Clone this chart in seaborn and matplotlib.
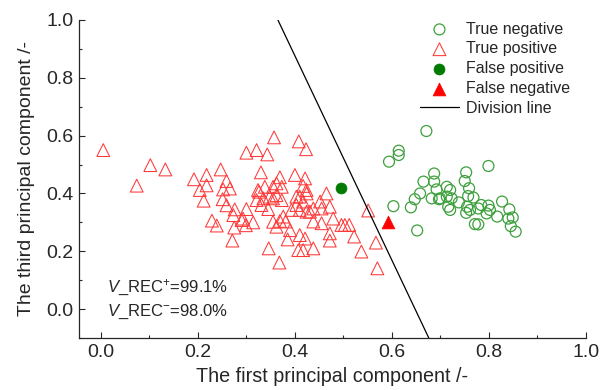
import numpy as np
import pandas as pd
import matplotlib
matplotlib.use("Agg")
import matplotlib.pyplot as plt
import seaborn as sns
from matplotlib.ticker import MultipleLocator

# ---------------- data ----------------
tp_x = [0.005, 0.074, 0.102, 0.133, 0.192, 0.218, 0.247, 0.204, 0.218, 0.259, 0.252, 0.266,
        0.212, 0.251, 0.259, 0.276, 0.300, 0.273, 0.293, 0.314, 0.299, 0.229, 0.239, 0.275,
        0.271, 0.300, 0.321, 0.343, 0.357, 0.330, 0.338, 0.326, 0.355, 0.335, 0.355, 0.331,
        0.345, 0.355, 0.362, 0.346, 0.368, 0.408, 0.423, 0.400, 0.421, 0.369, 0.362, 0.373,
        0.417, 0.324, 0.403, 0.424, 0.290, 0.348, 0.362, 0.373, 0.321, 0.369, 0.381, 0.376,
        0.390, 0.385, 0.410, 0.407, 0.393, 0.410, 0.410, 0.424, 0.421, 0.403, 0.424, 0.465,
        0.472, 0.452, 0.438, 0.417, 0.431, 0.455, 0.479, 0.438, 0.455, 0.496, 0.503, 0.512,
        0.522, 0.472, 0.472, 0.438, 0.537, 0.567, 0.570, 0.551, 0.417]
tp_y = [0.550, 0.427, 0.498, 0.483, 0.449, 0.464, 0.483, 0.412, 0.428, 0.443, 0.414, 0.417,
        0.375, 0.380, 0.359, 0.345, 0.346, 0.325, 0.313, 0.300, 0.290, 0.306, 0.289, 0.282,
        0.237, 0.541, 0.550, 0.535, 0.594, 0.473, 0.423, 0.406, 0.423, 0.383, 0.383, 0.360,
        0.346, 0.302, 0.285, 0.210, 0.161, 0.580, 0.553, 0.464, 0.452, 0.456, 0.435, 0.423,
        0.426, 0.412, 0.389, 0.412, 0.308, 0.389, 0.394, 0.377, 0.377, 0.305, 0.303, 0.320,
        0.273, 0.241, 0.256, 0.204, 0.343, 0.343, 0.389, 0.337, 0.244, 0.360, 0.400, 0.400,
        0.354, 0.372, 0.348, 0.372, 0.337, 0.348, 0.313, 0.303, 0.297, 0.291, 0.291, 0.291,
        0.251, 0.262, 0.237, 0.210, 0.199, 0.230, 0.141, 0.341, 0.204]

tn_x = [0.671, 0.614, 0.614, 0.594, 0.603, 0.652, 0.687, 0.665, 0.687, 0.692, 0.658, 0.647,
        0.639, 0.682, 0.699, 0.713, 0.720, 0.713, 0.723, 0.738, 0.753, 0.750, 0.759, 0.757,
        0.768, 0.755, 0.761, 0.753, 0.771, 0.778, 0.716, 0.720, 0.697, 0.799, 0.827, 0.842,
        0.849, 0.840, 0.845, 0.855, 0.817, 0.795, 0.784, 0.799, 0.802, 0.778]
tn_y = [0.616, 0.548, 0.533, 0.510, 0.356, 0.272, 0.469, 0.441, 0.441, 0.414, 0.400, 0.380,
        0.352, 0.383, 0.383, 0.423, 0.412, 0.389, 0.383, 0.369, 0.473, 0.443, 0.418, 0.391,
        0.386, 0.354, 0.343, 0.333, 0.294, 0.348, 0.354, 0.343, 0.380, 0.495, 0.372, 0.345,
        0.317, 0.313, 0.287, 0.268, 0.320, 0.331, 0.360, 0.358, 0.343, 0.293]

fp_x = [0.495]
fp_y = [0.418]
fn_x = [0.591]
fn_y = [0.300]

line_x = [0.365, 0.676]
line_y = [1.0, -0.1]

rec_labels = [r"$\mathit{V}$_REC$^{+}$=99.1%", r"$\mathit{V}$_REC$^{-}$=98.0%"]

# ---------------- style ----------------
sns.set_style("ticks")
plt.rcParams["font.family"] = ["Liberation Sans", "DejaVu Sans"]
plt.rcParams["mathtext.fontset"] = "custom"
plt.rcParams["mathtext.rm"] = "Liberation Sans"
plt.rcParams["mathtext.it"] = "Liberation Sans:italic"

fig = plt.figure(figsize=(6.04, 3.9), dpi=100)
ax = fig.add_axes([79 / 604, 1 - 338 / 390, (586 - 79) / 604, (338 - 20) / 390])

red = "#FF3838"
green = "#3DA03D"

sns.scatterplot(x=tn_x, y=tn_y, ax=ax, marker="o", s=62, color=green,
                facecolor="none", edgecolor=green, linewidth=0.9, label="True negative")
sns.scatterplot(x=tp_x, y=tp_y, ax=ax, marker="^", s=85, color=red,
                facecolor="none", edgecolor=red, linewidth=0.75, label="True positive")
sns.scatterplot(x=fp_x, y=fp_y, ax=ax, marker="o", s=62, color="#007A00",
                edgecolor="#007A00", linewidth=0.5, label="False positive")
sns.scatterplot(x=fn_x, y=fn_y, ax=ax, marker="^", s=85, color="#FF0000",
                edgecolor="#FF0000", linewidth=0.5, label="False negative")
sns.lineplot(x=line_x, y=line_y, ax=ax, color="black", linewidth=0.9,
             label="Division line", sort=False)

ax.set_xlim(-0.045, 1.0)
ax.set_ylim(-0.1, 1.0)
ax.xaxis.set_major_locator(MultipleLocator(0.2))
ax.xaxis.set_minor_locator(MultipleLocator(0.1))
ax.yaxis.set_major_locator(MultipleLocator(0.2))
ax.yaxis.set_minor_locator(MultipleLocator(0.1))
ax.xaxis.set_major_formatter(matplotlib.ticker.FormatStrFormatter("%.1f"))
ax.yaxis.set_major_formatter(matplotlib.ticker.FormatStrFormatter("%.1f"))
ax.tick_params(which="major", direction="in", length=4.5, width=0.8, labelsize=14, pad=4)
ax.tick_params(which="minor", direction="in", length=2.5, width=0.8)
for sp in ["top", "right"]:
    ax.spines[sp].set_visible(False)
for sp in ["left", "bottom"]:
    ax.spines[sp].set_linewidth(0.9)

ax.set_xlabel("The first principal component /-", fontsize=14.2, labelpad=5)
ax.set_ylabel("The third principal component /-", fontsize=14, labelpad=8)

ax.text(0.012, 0.073, rec_labels[0], fontsize=12, va="center", ha="left")
ax.text(0.012, -0.01, rec_labels[1], fontsize=12, va="center", ha="left")

handles, labels = ax.get_legend_handles_labels()
ax.legend(handles, labels, loc="upper left", bbox_to_anchor=(0.659, 1.015),
          frameon=False, fontsize=11.5, handlelength=2.5, handletextpad=0.4,
          labelspacing=0.3, borderaxespad=0)

fig.savefig("out.png", dpi=100)
